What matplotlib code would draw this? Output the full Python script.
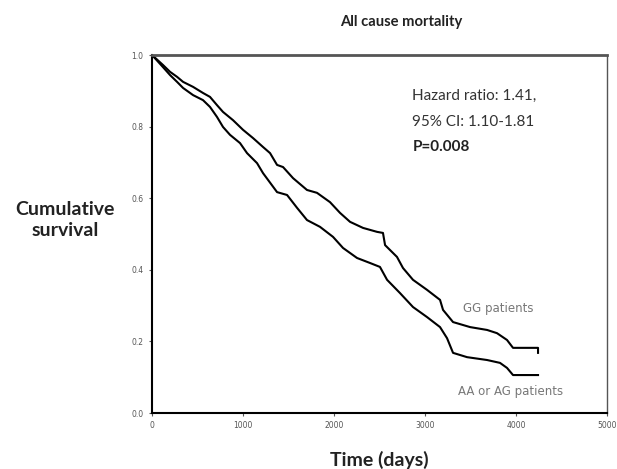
import matplotlib
matplotlib.use("Agg")
import matplotlib.pyplot as plt

plt.rcParams['font.family'] = ['Lato', 'DejaVu Sans']

# Kaplan-Meier curves
gg_days = [0, 121, 198, 275, 341, 451, 560, 637, 714, 780, 890, 1000, 1110, 1220,
           1297, 1374, 1440, 1550, 1703, 1813, 1956, 2066, 2176, 2319, 2473, 2538,
           2561, 2692, 2758, 2868, 3022, 3165, 3198, 3308, 3495, 3682, 3791, 3901,
           3967, 4242, 4242]
gg_surv = [1.0, 0.972, 0.953, 0.939, 0.925, 0.911, 0.894, 0.883, 0.860, 0.841, 0.818,
           0.791, 0.768, 0.743, 0.726, 0.693, 0.687, 0.656, 0.623, 0.615, 0.589, 0.559,
           0.534, 0.517, 0.506, 0.503, 0.469, 0.436, 0.405, 0.372, 0.344, 0.316, 0.288,
           0.254, 0.240, 0.232, 0.223, 0.204, 0.182, 0.182, 0.168]

aa_days = [0, 121, 198, 275, 341, 451, 560, 637, 714, 780, 857, 967, 1044, 1154,
           1220, 1374, 1484, 1594, 1703, 1846, 1989, 2099, 2253, 2396, 2505, 2583,
           2725, 2868, 3022, 3165, 3242, 3308, 3462, 3682, 3824, 3901, 3967, 4242]
aa_surv = [1.0, 0.966, 0.944, 0.925, 0.908, 0.888, 0.874, 0.855, 0.827, 0.799, 0.777,
           0.754, 0.726, 0.698, 0.670, 0.617, 0.609, 0.573, 0.539, 0.520, 0.492, 0.461,
           0.433, 0.419, 0.408, 0.372, 0.335, 0.296, 0.268, 0.240, 0.209, 0.168, 0.156,
           0.148, 0.140, 0.126, 0.106, 0.106]

x_ticks = [0, 1000, 2000, 3000, 4000, 5000]
y_ticks = [0.0, 0.2, 0.4, 0.6, 0.8, 1.0]

fig = plt.figure(figsize=(6.17, 4.69), dpi=100)
ax = fig.add_axes([0.2464, 0.1194, 0.7374, 0.7633])

ax.plot(gg_days, gg_surv, color='black', lw=1.5)
ax.plot(aa_days, aa_surv, color='black', lw=1.5)

ax.set_xlim(0, 5000)
ax.set_ylim(0, 1.0)
ax.set_xticks(x_ticks)
ax.set_xticklabels([str(t) for t in x_ticks], family='DejaVu Sans')
ax.set_yticks(y_ticks)
ax.set_yticklabels([f"{t:.1f}" for t in y_ticks], family='DejaVu Sans')
ax.tick_params(labelsize=5.5, colors='#555555', length=2.5, width=0.8)

ax.spines['left'].set_linewidth(1.5)
ax.spines['bottom'].set_linewidth(1.5)
ax.spines['top'].set_linewidth(2)
ax.spines['top'].set_color('#555555')
ax.spines['right'].set_linewidth(1)
ax.spines['right'].set_color('#555555')

fig.text(0.65, 0.953, "All cause mortality", ha='center', va='center',
         fontsize=10.6, fontweight='bold', color='#222222')
fig.text(0.105, 0.531, "Cumulative\nsurvival", ha='center', va='center',
         fontsize=14, fontweight='bold', color='#222222', linespacing=1.25)
ax.set_xlabel("Time (days)", fontsize=14, fontweight='bold', color='#222222',
              labelpad=15)

ax.text(2860, 0.885, "Hazard ratio: 1.41,", fontsize=11, color='#333333', va='center')
ax.text(2860, 0.813, "95% CI: 1.10-1.81", fontsize=11, color='#333333', va='center')
ax.text(2860, 0.742, "P=0.008", fontsize=11, color='#222222', va='center',
        fontweight='bold')
ax.text(3418, 0.293, "GG patients", fontsize=8.5, color='#777777', va='center',
        family='DejaVu Sans')
ax.text(3363, 0.059, "AA or AG patients", fontsize=8.5, color='#777777', va='center',
        family='DejaVu Sans')

fig.savefig("out.png", dpi=100)
